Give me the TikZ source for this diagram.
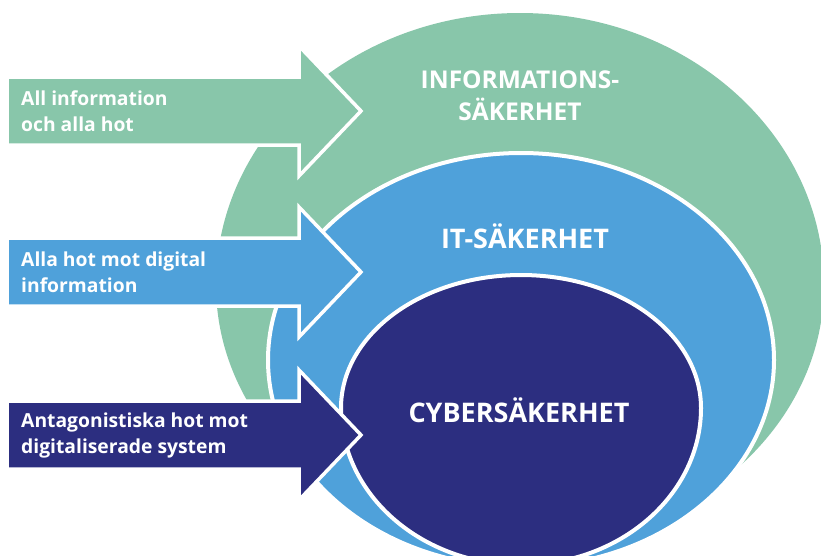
\documentclass[tikz,border=0pt]{standalone}
\usepackage{fontspec}
\setmainfont{Open Sans}
\usepackage{tikz}
\usepackage{xcolor}
\usetikzlibrary{positioning}

\definecolor{infogreen}{HTML}{88C6AA}
\definecolor{itblue}{HTML}{4FA1DA}
\definecolor{cybernavy}{HTML}{2C2E80}

% arrow body: name, centre y, colour
\newcommand\threatarrow[3]{%
  \draw[arrowbox, fill=#3] (7,#2-34) -- (299,#2-34) -- (299,#2-65) -- (361,#2)
    -- (299,#2+65) -- (299,#2+34) -- (7,#2+34) -- cycle;
  \coordinate (#1) at (21,#2);
}

\begin{document}
\begin{tikzpicture}[x=1pt, y=-1pt,
    ring/.style={draw=white, line width=4pt},
    arrowbox/.style={draw=white, line width=3.5pt, line join=miter},
    threat/.style={text=white, font=\bfseries\fontsize{19.3}{26}\selectfont, align=left, inner sep=0pt, anchor=west},
    title/.style={text=white, font=\bfseries\fontsize{24.5}{32}\selectfont, align=center, inner sep=0pt},
    bigtitle/.style={title, font=\bfseries\fontsize{27}{32}\selectfont}]
    \useasboundingbox (0,0) rectangle (821,555);

    % upper half first, then the flatter lower half
    \fill[infogreen] (216,285) arc[start angle=180, end angle=0, x radius=304pt, y radius=272pt]
        arc[start angle=0, end angle=-180, x radius=304pt, y radius=262pt] -- cycle;
    \threatarrow{allarrow}{111}{infogreen}

    \draw[ring, fill=itblue] (521,360) ellipse [x radius=253pt, y radius=207pt];
    \threatarrow{digarrow}{272}{itblue}

    \draw[ring, fill=cybernavy] (341,408) arc[start angle=180, end angle=0, x radius=180pt, y radius=133pt]
        arc[start angle=0, end angle=-180, x radius=180pt, y radius=157pt] -- cycle;
    \threatarrow{antarrow}{435}{cybernavy}

    \node[title] (infosec) at (520,96) {INFORMATIONS-\\SÄKERHET};
    \node[bigtitle] (itsec) at (525,236) {IT-SÄKERHET};
    \node[bigtitle] (cybersec) at (519,410) {CYBERSÄKERHET};

    \node[threat] (alltext) at (allarrow) {All information\\och alla hot};
    \node[threat] (digtext) at (digarrow) {Alla hot mot digital\\information};
    \node[threat] (anttext) at (antarrow) {Antagonistiska hot mot\\digitaliserade system};
\end{tikzpicture}
\end{document}
